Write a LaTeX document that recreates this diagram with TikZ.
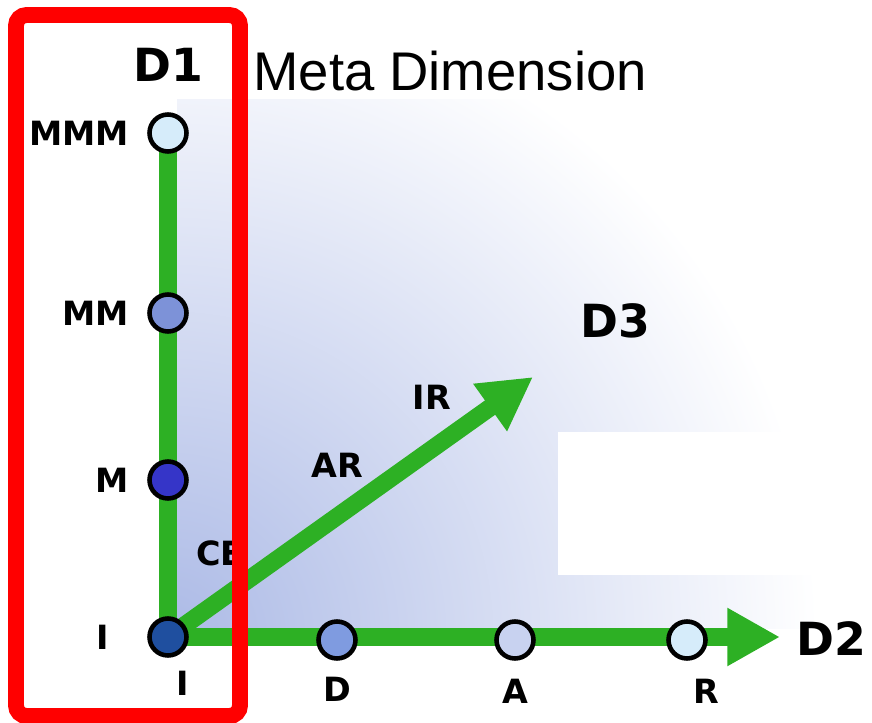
\documentclass[tikz,border=0pt]{standalone}
\usepackage{fontspec}
\setmainfont{Liberation Sans}
\newfontfamily\heavyfont{DejaVu Sans}
\usepackage{tikz}
\usetikzlibrary{arrows.meta, positioning}
\definecolor{axisgreen}{RGB}{45,176,36}
\definecolor{framered}{RGB}{255,0,0}
\definecolor{shadeblue}{RGB}{172,186,230}
\definecolor{palecyan}{RGB}{214,236,250}
\definecolor{midblue}{RGB}{125,146,216}
\definecolor{deepblue}{RGB}{53,53,200}
\definecolor{navyblue}{RGB}{31,79,159}
\definecolor{softblue}{RGB}{127,155,224}
\definecolor{mistblue}{RGB}{200,210,240}
\pgfdeclarelayer{shade}
\pgfdeclarelayer{background}
\pgfsetlayers{shade,background,main}

\begin{document}
\begin{tikzpicture}[
				x=0.02cm, y=-0.02cm,
				level/.style={circle, draw=black, line width=2.6pt, minimum size=0.74cm, inner sep=0pt},
				axis/.style={line width=10pt, color=axisgreen},
				axisarrow/.style={axis, -{Triangle[length=30pt, width=31pt]}},
				tick/.style={font=\heavyfont\fontsize{19}{19}\selectfont\bfseries, inner sep=0pt},
				dimlabel/.style={font=\heavyfont\fontsize{26}{26}\selectfont\bfseries, inner sep=0pt}
				]
				\useasboundingbox (0,0) rectangle (872,723);

				% levels on D1
				\node[level, fill=navyblue] (I) at (168,637) {};
				\node[level, fill=deepblue] (M) at (168,480) {};
				\node[level, fill=midblue] (MM) at (168,313) {};
				\node[level, fill=palecyan] (MMM) at (168,133) {};
				% levels on D2
				\node[level, fill=softblue] (D) at (337,640) {};
				\node[level, fill=mistblue] (A) at (515,640) {};
				\node[level, fill=palecyan] (R) at (687,640) {};
				\coordinate (d2end) at (780,639);
				\coordinate (d3end) at (533,377);

				\begin{pgfonlayer}{shade}
					\begin{scope}
						\clip (177,100) rectangle (872,628);
						\shade[inner color=shadeblue, outer color=white] (168,636) circle (650);
					\end{scope}
					\fill[white] (558,432) rectangle (872,575);
				\end{pgfonlayer}

				\begin{pgfonlayer}{background}
					\draw[axis] (I.center) -- (MMM.center);
					\draw[axisarrow] (I.center) -- (I.center -| d2end);
					\draw[axisarrow] (I.center) -- (d3end);
				\end{pgfonlayer}

				\node[tick, left=0.36cm of MMM] (mmmlabel) {MMM};
				\node[tick, left=0.36cm of MM] (mmlabel) {MM};
				\node[tick, left=0.36cm of M] (mlabel) {M};
				\node[tick, left=0.75cm of I] (ilabel) {I};
				\node[tick, below=0.26cm of I, xshift=0.3cm] (ibottom) {I};
				\node[tick, below=0.32cm of D] (dlabel) {D};
				\node[tick, below=0.36cm of A] (alabel) {A};
				\node[tick, below=0.36cm of R, xshift=0.38cm] (rlabel) {R};

				\node[dimlabel, above=0.6cm of MMM] (d1) {D1};
				\node[dimlabel, right=0.32cm of d2end] (d2) {D2};
				\node[dimlabel] (d3) at (615,321) {D3};
				\node[anchor=west, inner sep=0pt, font=\fontsize{31}{31}\selectfont] (title) at (253,71) {Meta Dimension};

				\node[tick] (ir) at (432,397) {IR};
				\node[tick] (ar) at (337,465) {AR};
				\node[tick, anchor=west] (ce) at (196,553) {CE};

				\draw[line width=9pt, color=framered, rounded corners=6pt] (16,15) rectangle (240,716);
			\end{tikzpicture}
\end{document}
